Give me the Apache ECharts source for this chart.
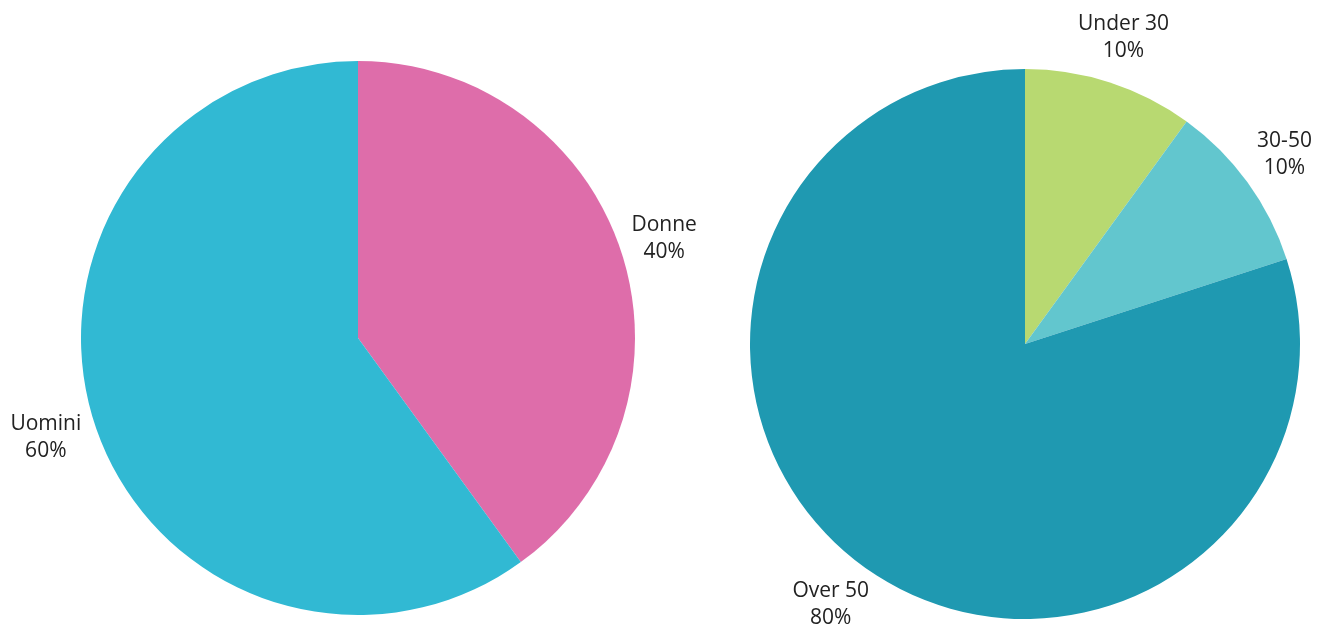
<!DOCTYPE html>
<html>
<head>
<meta charset="utf-8">
<script src="https://cdn.jsdelivr.net/npm/echarts@6/dist/echarts.min.js"></script>
<style>
html,body{margin:0;padding:0;background:#fff;}
#c{width:1318px;height:635px;}
</style>
</head>
<body>
<div id="c"></div>
<script>
const genderCategories = ['Donne', 'Uomini'];
const genderValues = [40, 60];
const genderColors = ['#DE6DAA', '#31B9D3'];

const ageCategories = ['Under 30', '30-50', 'Over 50'];
const ageValues = [10, 10, 80];
const ageColors = ['#B8D971', '#62C6CE', '#1F99B1'];

function toData(cats, vals, cols) {
  return cats.map((c, i) => ({ name: c, value: vals[i], itemStyle: { color: cols[i] } }));
}

const labelStyle = {
  show: true,
  position: 'outside',
  formatter: '{b}\n{d}%',
  fontFamily: '"Open Sans", sans-serif',
  fontSize: 21,
  lineHeight: 27,
  color: '#222222',
  alignTo: 'none'
};

function centerLabel(params) {
  return { align: 'center', dx: params.align === 'left' ? -6 : 0 };
}

const chart = echarts.init(document.getElementById('c'), null, { renderer: 'canvas' });
chart.setOption({
  backgroundColor: '#ffffff',
  animation: false,
  series: [
    {
      type: 'pie',
      center: [358, 338],
      radius: 277,
      startAngle: 90,
      clockwise: true,
      avoidLabelOverlap: false,
      label: labelStyle,
      labelLine: { show: false, length: 46, length2: 0 },
      labelLayout: centerLabel,
      emphasis: { disabled: true },
      data: toData(genderCategories, genderValues, genderColors)
    },
    {
      type: 'pie',
      center: [1025, 344],
      radius: 275,
      startAngle: 90,
      clockwise: true,
      avoidLabelOverlap: false,
      label: labelStyle,
      labelLine: { show: false, length: 47, length2: 0 },
      labelLayout: centerLabel,
      emphasis: { disabled: true },
      data: toData(ageCategories, ageValues, ageColors)
    }
  ]
});
</script>
</body>
</html>
